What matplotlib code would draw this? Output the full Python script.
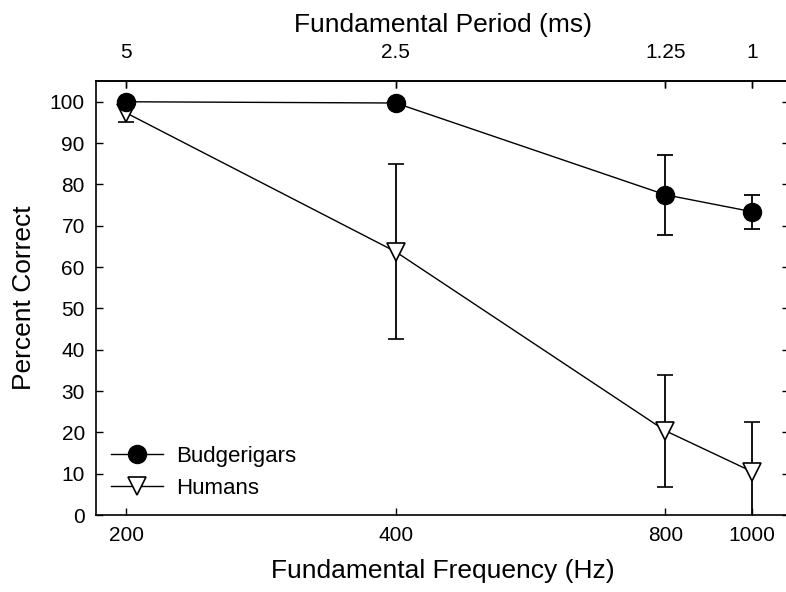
import matplotlib
matplotlib.use("Agg")
import matplotlib.pyplot as plt
from matplotlib.ticker import NullLocator, FixedLocator, FixedFormatter
from matplotlib.lines import Line2D

plt.rcParams['font.family'] = ['Liberation Sans', 'DejaVu Sans']

freq = [200, 400, 800, 1000]
freq_labels = ["200", "400", "800", "1000"]
period_labels = ["5", "2.5", "1.25", "1"]

budg_mean = [100.0, 99.7, 77.5, 73.4]
budg_err = [0.0, 0.0, 9.7, 4.1]
hum_mean = [97.3, 63.7, 20.4, 10.5]
hum_err = [2.3, 21.2, 13.6, 12.0]

fig = plt.figure(figsize=(7.86, 5.92), dpi=100)
ax = fig.add_axes([0.122, 0.130, 0.882, 0.733])

ax.errorbar(freq, hum_mean, yerr=hum_err, color='black', lw=1.0,
            elinewidth=1.3, capsize=5.8, capthick=1.3,
            marker='v', markersize=13, markerfacecolor='white',
            markeredgecolor='black', markeredgewidth=1.2, zorder=2)
ax.errorbar(freq, budg_mean, yerr=budg_err, color='black', lw=1.0,
            elinewidth=1.3, capsize=5.8, capthick=1.3,
            marker='o', markersize=13, markerfacecolor='black',
            markeredgecolor='black', zorder=3)

ax.set_xscale('log', base=2)
ax.set_xlim(185, 1100)
ax.set_ylim(0, 105)
ax.xaxis.set_major_locator(FixedLocator(freq))
ax.xaxis.set_major_formatter(FixedFormatter(freq_labels))
ax.xaxis.set_minor_locator(NullLocator())
ax.set_yticks(range(0, 101, 10))

ax.tick_params(axis='both', direction='in', length=5, width=1.0,
               labelsize=15, top=True, right=True)
ax.tick_params(axis='x', pad=8)
ax.tick_params(axis='y', pad=8)

sec = ax.secondary_xaxis('top')
sec.set_xticks(freq)
sec.set_xticklabels(period_labels)
sec.xaxis.set_minor_locator(NullLocator())
sec.tick_params(axis='x', direction='in', length=5, width=1.0,
                labelsize=15, pad=13.5)
sec.set_xlabel('Fundamental Period (ms)', fontsize=19, labelpad=8.5)

ax.set_xlabel('Fundamental Frequency (Hz)', fontsize=19, labelpad=10)
ax.set_ylabel('Percent Correct', fontsize=19, labelpad=10)

for s in ax.spines.values():
    s.set_linewidth(1.2)
for s in sec.spines.values():
    s.set_linewidth(1.2)

h_budg = Line2D([], [], color='black', lw=1.0, marker='o', markersize=13,
                markerfacecolor='black', markeredgecolor='black')
h_hum = Line2D([], [], color='black', lw=1.0, marker='v', markersize=13,
               markerfacecolor='white', markeredgecolor='black',
               markeredgewidth=1.2)
ax.legend([h_budg, h_hum], ['Budgerigars', 'Humans'],
          loc='lower left', frameon=False, fontsize=16,
          handlelength=2.34, handletextpad=0.58, labelspacing=0.5,
          borderpad=0, borderaxespad=0, bbox_to_anchor=(0.022, 0.037))

fig.savefig('out.png', dpi=100)
